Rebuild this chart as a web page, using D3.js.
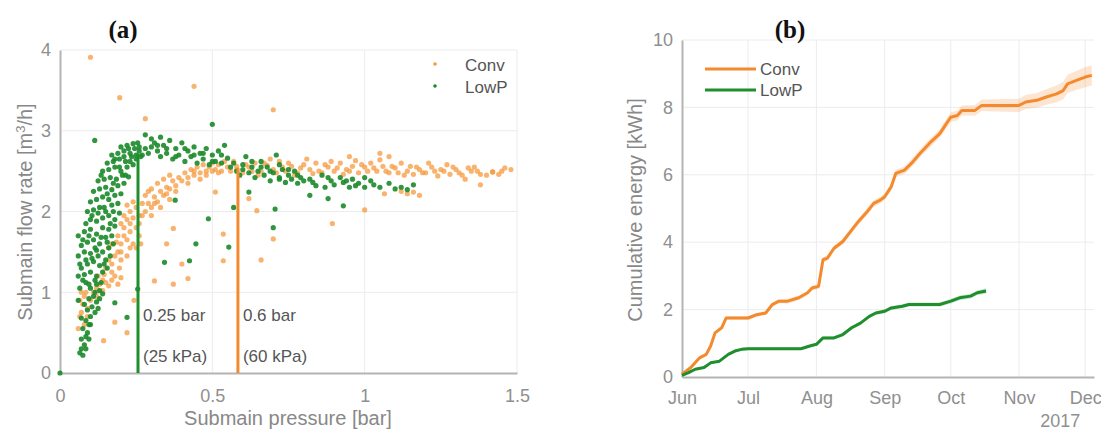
<!DOCTYPE html>
<html>
<head>
<meta charset="utf-8">
<script src="https://cdn.jsdelivr.net/npm/d3@7"></script>
<style>
  body { margin: 0; background: #fff; }
  svg { font-family: "Liberation Sans", Arial, sans-serif; }
</style>
</head>
<body>
<svg id="chart" width="1101" height="430"></svg>
<script>
// ---- panel (a): submain pressure [bar] vs submain flow rate [m3/h]
let convPts = [
  [0.06,0.55],[0.065,0.7],[0.07,0.75],[0.075,0.85],[0.08,0.95],[0.065,0.9],[0.085,1.0],[0.09,0.8],[0.1,0.9],[0.07,1.0],
  [0.143,0.4],[0.18,0.63],[0.22,0.5],[0.243,0.9],
  [0.11,1.0],[0.12,1.05],[0.13,1.1],[0.14,1.02],[0.15,1.12],[0.16,1.08],[0.17,1.15],[0.18,1.2],[0.19,1.1],[0.2,1.18],[0.125,1.2],[0.145,1.22],
  [0.15,1.3],[0.16,1.4],[0.17,1.35],[0.18,1.45],[0.19,1.5],[0.16,1.55],[0.17,1.6],[0.185,1.62],[0.2,1.4],[0.195,1.3],
  [0.2,1.6],[0.21,1.7],[0.22,1.65],[0.23,1.75],[0.24,1.6],[0.25,1.8],[0.26,1.7],[0.2,1.85],[0.21,1.95],[0.22,1.9],
  [0.23,2.0],[0.24,1.92],[0.25,2.05],[0.26,1.95],[0.27,2.1],[0.22,2.08],[0.24,2.12],[0.26,1.85],[0.265,1.6],[0.25,1.55],
  [0.28,2.0],[0.29,2.1],[0.3,2.05],[0.31,2.18],[0.32,2.12],[0.33,2.25],[0.34,2.2],[0.35,2.3],[0.36,2.28],[0.37,2.38],
  [0.38,2.32],[0.39,2.42],[0.28,2.2],[0.3,2.28],[0.32,2.35],[0.34,2.4],[0.36,2.45],[0.3,1.95],[0.33,2.05],[0.36,2.15],
  [0.4,2.38],[0.41,2.48],[0.42,2.42],[0.43,2.52],[0.44,2.45],[0.45,2.55],[0.46,2.48],[0.47,2.58],[0.48,2.5],[0.49,2.55],
  [0.5,2.6],[0.51,2.52],[0.52,2.58],[0.53,2.5],[0.54,2.62],[0.55,2.55],[0.42,2.35],[0.46,2.4],
  [0.56,2.5],[0.58,2.56],[0.6,2.48],[0.62,2.55],[0.64,2.6],[0.66,2.5],[0.68,2.57],[0.7,2.52],[0.72,2.62],[0.74,2.5],
  [0.76,2.56],[0.78,2.48],[0.8,2.58],[0.82,2.52],[0.84,2.6],[0.86,2.48],[0.88,2.55],[0.9,2.5],[0.92,2.6],[0.94,2.52],
  [0.96,2.56],[0.98,2.48],[1.0,2.55],[1.02,2.6],[1.04,2.5],[1.06,2.56],[1.08,2.48],[1.1,2.54],[1.12,2.6],[1.14,2.5],
  [1.16,2.46],[1.18,2.52],[1.2,2.48],[1.22,2.55],[1.24,2.44],[1.26,2.5],[1.28,2.46],[1.3,2.52],[1.32,2.45],[1.35,2.5],
  [1.38,2.46],[1.42,2.49],[1.45,2.5],[1.48,2.52],
  [0.57,2.62],[0.61,2.58],[0.65,2.45],[0.69,2.65],[0.73,2.55],[0.77,2.45],[0.81,2.65],[0.85,2.5],[0.89,2.62],[0.93,2.46],
  [0.97,2.63],[1.01,2.5],[1.05,2.64],[1.09,2.56],[1.13,2.45],[1.17,2.55],[1.21,2.6],[1.25,2.52],[1.29,2.55],[1.33,2.4],
  [1.36,2.55],[1.4,2.45],[1.05,2.72],[1.08,2.68],[0.95,2.68],
  [0.58,2.52],[0.63,2.5],[0.67,2.6],[0.71,2.48],[0.75,2.6],[0.79,2.54],[0.83,2.47],[0.87,2.58],[0.91,2.54],[0.95,2.5],
  [0.99,2.58],[1.03,2.54],[1.07,2.5],[1.11,2.48],[1.15,2.56],[1.19,2.48],[1.23,2.5],[1.27,2.58],[1.31,2.48],[1.34,2.54],
  [1.37,2.5],[1.44,2.46],[1.46,2.54],[0.44,2.5],[0.48,2.45],[0.52,2.48],[0.5,2.5],[0.38,2.25],[0.35,2.22],[0.31,2.1],
  [0.29,2.25],[0.27,1.95],[0.23,1.85],[0.21,1.8],[0.19,1.7],[0.23,1.55],[0.22,1.45],[0.2,1.5],[0.17,1.25],[0.14,1.15],
  [0.12,0.95],[0.09,0.7],[0.08,0.6],
  [1.12,2.25],[1.14,2.22],[1.16,2.24],[1.18,2.2],
  [0.1,3.91],[0.196,3.41],[0.28,3.15],[0.44,3.55],[0.7,3.26],[0.66,1.4],[0.894,1.85],[1.0,2.02],[1.065,2.22],[1.38,2.33],
  [1.42,2.49],[0.372,1.79],[0.372,1.1],[0.42,1.17],[0.4,1.35],[0.31,1.14],[0.35,1.6],[0.536,1.72],[0.536,1.39],[0.51,2.24],
  [0.7,1.66],[0.646,2.01],[0.62,2.16]
];

let lowpPts = [
  [0.065,0.25],[0.07,0.3],[0.075,0.22],[0.08,0.35],[0.07,0.42],[0.085,0.45],[0.09,0.5],[0.075,0.55],[0.095,0.6],[0.085,0.65],
  [0.1,0.7],[0.07,0.68],[0.09,0.78],[0.105,0.82],[0.08,0.85],[0.095,0.92],[0.11,0.95],[0.12,0.88],[0.13,0.92],[0.115,1.0],
  [0.13,1.02],[0.14,0.98],[0.06,0.9],[0.065,1.05],[0.1,1.05],[0.12,1.1],[0.135,1.12],[0.085,1.12],
  [0.06,1.2],[0.08,1.22],[0.1,1.25],[0.12,1.2],[0.14,1.25],[0.155,1.3],[0.07,1.3],[0.09,1.35],[0.11,1.38],[0.13,1.33],
  [0.15,1.4],[0.165,1.45],[0.06,1.45],[0.08,1.5],[0.1,1.48],[0.12,1.52],[0.14,1.5],[0.16,1.55],[0.175,1.6],[0.07,1.58],
  [0.09,1.62],[0.11,1.65],[0.13,1.6],[0.15,1.68],[0.17,1.7],[0.06,1.7],[0.08,1.75],[0.1,1.78],[0.12,1.72],[0.14,1.8],
  [0.16,1.78],[0.18,1.82],
  [0.085,1.85],[0.1,1.9],[0.12,1.88],[0.14,1.92],[0.16,1.95],[0.18,1.9],[0.195,1.98],[0.09,2.0],[0.11,2.02],[0.13,2.05],
  [0.15,2.0],[0.17,2.08],[0.19,2.1],[0.1,2.12],[0.12,2.15],[0.14,2.18],[0.16,2.15],[0.18,2.2],[0.2,2.22],[0.11,2.25],
  [0.13,2.28],[0.15,2.3],[0.17,2.27],[0.19,2.32],[0.21,2.35],[0.125,2.38],[0.145,2.4],[0.165,2.42],[0.185,2.4],[0.205,2.45],
  [0.225,2.43],
  [0.14,2.5],[0.16,2.52],[0.18,2.55],[0.2,2.5],[0.22,2.55],[0.24,2.58],[0.155,2.6],[0.175,2.62],[0.195,2.65],[0.215,2.62],
  [0.235,2.68],[0.25,2.65],[0.17,2.7],[0.19,2.72],[0.21,2.75],[0.23,2.72],[0.245,2.78],[0.26,2.75],[0.2,2.8],[0.22,2.82],
  [0.24,2.84],[0.26,2.8],[0.28,2.78],[0.27,2.7],[0.29,2.72],[0.3,2.8],
  [0.31,2.85],[0.32,2.75],[0.33,2.68],[0.34,2.82],[0.35,2.72],[0.36,2.88],[0.37,2.65],[0.38,2.78],[0.39,2.7],[0.4,2.85],
  [0.41,2.62],[0.42,2.75],[0.43,2.68],[0.44,2.8],[0.45,2.6],[0.46,2.72],[0.47,2.65],[0.48,2.78],[0.49,2.58],[0.5,2.7],
  [0.51,2.62],[0.52,2.75],[0.53,2.6],[0.54,2.82],[0.55,2.66],[0.3,2.9],[0.33,2.92],[0.28,2.95],[0.56,2.55],
  [0.57,2.6],[0.58,2.5],[0.59,2.45],[0.6,2.58],[0.61,2.68],[0.62,2.48],[0.63,2.55],[0.64,2.42],[0.65,2.5],[0.66,2.62],
  [0.67,2.45],[0.68,2.55],[0.69,2.38],[0.7,2.48],[0.71,2.7],[0.72,2.42],[0.73,2.52],[0.74,2.36],[0.75,2.45],[0.76,2.4],
  [0.77,2.5],[0.78,2.35],[0.79,2.42],[0.8,2.38],
  [0.82,2.4],[0.84,2.32],[0.86,2.45],[0.87,2.3],[0.89,2.38],[0.9,2.33],[0.92,2.42],[0.93,2.36],[0.95,2.3],[0.96,2.4],
  [0.98,2.35],[1.0,2.42],[1.0,2.3],[1.02,2.38],[1.05,2.3],[1.08,2.35],[1.1,2.28],[1.12,2.3],[1.14,2.27],[1.16,2.33],
  [0.075,1.15],[0.095,1.1],[0.115,1.15],[0.065,1.35],[0.085,1.4],[0.105,1.42],[0.125,1.45],[0.145,1.35],[0.075,1.65],[0.095,1.7],
  [0.115,1.55],[0.135,1.68],[0.155,1.62],[0.165,1.85],[0.105,1.95],[0.125,1.98],[0.145,2.05],[0.175,2.0],[0.155,2.22],[0.135,2.45],
  [0.175,2.35],[0.195,2.55],[0.215,2.45],[0.23,2.62],[0.18,2.65],[0.21,2.68],[0.225,2.78],[0.25,2.7],[0.265,2.68],[0.255,2.85],
  [0.32,2.82],[0.35,2.78],[0.38,2.68],[0.41,2.78],[0.44,2.7],[0.47,2.72],[0.5,2.62],[0.53,2.7],[0.6,2.52],[0.63,2.62],
  [0.66,2.55],[0.69,2.5],[0.72,2.58],[0.75,2.52],[0.78,2.45],[0.83,2.36],[0.88,2.42],[0.94,2.38],[0.97,2.32],[1.03,2.33],
  [0.1,0.6],[0.115,0.75],[0.125,0.8],[0.085,0.3],[0.095,0.42],
  [0.114,2.88],[0.5,3.08],[0.57,2.05],[0.446,1.6],[0.554,1.56],[0.7,1.8],[0.706,2.03],[0.93,2.07],[0.378,2.14],[0.343,1.37],
  [0.425,1.39],[0.487,1.91],[0.18,0.87],[0.22,0.69],[0.255,1.04],[0,0],[0.62,2.24],[0.72,2.4],[0.82,2.2],[0.88,2.16]
];

// pressure thresholds marked with vertical lines
let thrBar = [0.256, 0.584];
let thrTop = [2.72, 2.54];
let thrText = [["0.25 bar", "(25 kPa)"], ["0.6 bar", "(60 kPa)"]];

let xTicksA = [0, 0.5, 1, 1.5];
let yTicksA = [0, 1, 2, 3, 4];

// ---- panel (b): cumulative energy [kWh], [date, value, band half-width]
let convEnergy = [
  ["2017-06-01",0.08,0.04],["2017-06-05",0.28,0.04],["2017-06-09",0.57,0.05],["2017-06-12",0.67,0.05],["2017-06-14",0.92,0.05],
  ["2017-06-16",1.31,0.05],["2017-06-19",1.46,0.05],["2017-06-21",1.75,0.05],["2017-06-23",1.75,0.05],["2017-07-01",1.75,0.06],
  ["2017-07-05",1.85,0.06],["2017-07-09",1.9,0.06],["2017-07-12",2.15,0.06],["2017-07-15",2.25,0.06],["2017-07-19",2.25,0.07],
  ["2017-07-24",2.35,0.07],["2017-07-28",2.5,0.07],["2017-07-30",2.64,0.07],["2017-08-02",2.69,0.08],["2017-08-04",3.48,0.08],
  ["2017-08-06",3.53,0.08],["2017-08-09",3.82,0.08],["2017-08-13",4.02,0.09],["2017-08-17",4.36,0.09],["2017-08-20",4.61,0.09],
  ["2017-08-24",4.9,0.1],["2017-08-27",5.15,0.1],["2017-08-30",5.25,0.1],["2017-09-01",5.35,0.1],["2017-09-04",5.65,0.11],
  ["2017-09-06",6.04,0.11],["2017-09-10",6.14,0.11],["2017-09-13",6.33,0.12],["2017-09-17",6.63,0.12],["2017-09-22",6.98,0.13],
  ["2017-09-26",7.22,0.13],["2017-09-29",7.52,0.14],["2017-10-01",7.71,0.14],["2017-10-04",7.76,0.15],["2017-10-06",7.91,0.15],
  ["2017-10-12",7.91,0.16],["2017-10-15",8.06,0.17],["2017-10-21",8.06,0.18],["2017-10-27",8.06,0.19],["2017-11-01",8.06,0.2],
  ["2017-11-04",8.16,0.21],["2017-11-09",8.21,0.22],["2017-11-13",8.3,0.23],["2017-11-18",8.4,0.25],["2017-11-21",8.5,0.26],
  ["2017-11-23",8.7,0.27],["2017-11-27",8.8,0.28],["2017-12-01",8.9,0.3],["2017-12-04",8.95,0.3]
];
let lowpEnergy = [
  ["2017-06-01",0.05,0.03],["2017-06-04",0.13,0.03],["2017-06-07",0.23,0.03],["2017-06-11",0.28,0.03],["2017-06-14",0.42,0.03],
  ["2017-06-18",0.47,0.03],["2017-06-22",0.67,0.04],["2017-06-25",0.77,0.04],["2017-06-28",0.82,0.04],["2017-07-01",0.84,0.04],
  ["2017-07-25",0.84,0.04],["2017-07-29",0.92,0.04],["2017-08-01",0.97,0.04],["2017-08-04",1.16,0.05],["2017-08-09",1.16,0.05],
  ["2017-08-13",1.26,0.05],["2017-08-17",1.46,0.05],["2017-08-21",1.6,0.05],["2017-08-25",1.8,0.05],["2017-08-28",1.9,0.05],
  ["2017-09-01",1.95,0.06],["2017-09-04",2.05,0.06],["2017-09-09",2.1,0.06],["2017-09-12",2.15,0.06],["2017-09-18",2.15,0.06],
  ["2017-09-26",2.15,0.06],["2017-10-01",2.25,0.07],["2017-10-05",2.35,0.07],["2017-10-10",2.4,0.07],["2017-10-13",2.5,0.07],
  ["2017-10-17",2.55,0.08]
];
let yTicksB = [0, 2, 4, 6, 8, 10];
let dateRange = ["2017-06-01", "2017-12-05"];

let seriesNames = ["Conv", "LowP"];
let colors = {Conv: "#f48a2e", LowP: "#1f8f2d"};
let dotColors = {Conv: "#f6993f", LowP: "#1b8a2a"};

let svg = d3.select("#chart");
let parse = d3.timeParse("%Y-%m-%d");
let tickCol = "#8f8f8f";

// ===================== panel (a) =====================
let xA = d3.scaleLinear().domain([0, 1.5]).range([60, 517]);
let yA = d3.scaleLinear().domain([0, 4]).range([373, 50]);

let gA = svg.append("g");

// grid
gA.selectAll(".gx").data(xTicksA.filter(d => d > 0)).join("line")
  .attr("x1", d => xA(d)).attr("x2", d => xA(d))
  .attr("y1", yA(0)).attr("y2", yA(4))
  .attr("stroke", "#ececec").attr("stroke-width", 1);
gA.selectAll(".gy").data(yTicksA.filter(d => d > 0)).join("line")
  .attr("x1", xA(0)).attr("x2", xA(1.5))
  .attr("y1", d => yA(d)).attr("y2", d => yA(d))
  .attr("stroke", "#ececec").attr("stroke-width", 1);

// axes
let axA_x = gA.append("g").attr("transform", `translate(0,${yA(0)})`)
  .call(d3.axisBottom(xA).tickValues(xTicksA).tickSize(0).tickPadding(16).tickFormat(d3.format("~g")));
let axA_y = gA.append("g").attr("transform", `translate(${xA(0)},0)`)
  .call(d3.axisLeft(yA).tickValues(yTicksA).tickSize(0).tickPadding(9).tickFormat(d3.format("d")));
[axA_x, axA_y].forEach(function(ax) {
  ax.select(".domain").attr("stroke", "#b4b4b4").attr("stroke-width", 2);
  ax.selectAll("text").attr("fill", tickCol).style("font-size", "18px");
});

// scatter: Conv first, LowP on top
gA.append("g").selectAll("circle").data(convPts).join("circle")
  .attr("cx", d => xA(d[0])).attr("cy", d => yA(d[1])).attr("r", 2.6)
  .attr("fill", dotColors.Conv).attr("fill-opacity", 0.75);
gA.append("g").selectAll("circle").data(lowpPts).join("circle")
  .attr("cx", d => xA(d[0])).attr("cy", d => yA(d[1])).attr("r", 2.6)
  .attr("fill", dotColors.LowP).attr("fill-opacity", 0.9);

// threshold lines + labels
thrBar.forEach(function(b, i) {
  let col = i == 0 ? colors.LowP : colors.Conv;
  gA.append("line")
    .attr("x1", xA(b)).attr("x2", xA(b))
    .attr("y1", yA(0)).attr("y2", yA(thrTop[i]))
    .attr("stroke", col).attr("stroke-width", 3);
  gA.append("text").attr("x", xA(b) + 5).attr("y", 321)
    .attr("fill", "#555").style("font-size", "17px").text(thrText[i][0]);
  gA.append("text").attr("x", xA(b) + 5).attr("y", 362)
    .attr("fill", "#555").style("font-size", "17px").text(thrText[i][1]);
});

// legend (a)
seriesNames.forEach(function(s, i) {
  gA.append("circle").attr("cx", 435).attr("cy", 64 + i * 22).attr("r", 1.8)
    .attr("fill", dotColors[s]);
  gA.append("text").attr("x", 465).attr("y", 71 + i * 22)
    .attr("fill", "#555").style("font-size", "17px").text(s);
});

// labels (a)
gA.append("text").attr("x", 288).attr("y", 425).attr("text-anchor", "middle")
  .attr("fill", "#888").style("font-size", "20px").text("Submain pressure [bar]");
let ylabA = gA.append("text").attr("transform", "translate(32,212) rotate(-90)")
  .attr("text-anchor", "middle").attr("fill", "#888").style("font-size", "20px");
ylabA.append("tspan").text("Submain flow rate [m");
ylabA.append("tspan").attr("baseline-shift", "super").style("font-size", "13px").text("3");
ylabA.append("tspan").text("/h]");

svg.append("text").attr("x", 123).attr("y", 38).attr("text-anchor", "middle")
  .style("font-family", "'Liberation Serif', 'Times New Roman', serif")
  .style("font-weight", "bold").style("font-size", "25px").attr("fill", "#111").text("(a)");

// ===================== panel (b) =====================
let xB = d3.scaleTime().domain(dateRange.map(parse)).range([682, 1094]);
let yB = d3.scaleLinear().domain([0, 10]).range([377, 40]);
let months = d3.timeMonth.range(parse("2017-06-01"), parse("2017-12-02"));

let gB = svg.append("g");
gB.selectAll(".gx").data(months.slice(1)).join("line")
  .attr("x1", d => xB(d)).attr("x2", d => xB(d))
  .attr("y1", yB(0)).attr("y2", yB(10))
  .attr("stroke", "#ececec").attr("stroke-width", 1);
gB.selectAll(".gy").data(yTicksB.filter(d => d > 0)).join("line")
  .attr("x1", xB.range()[0]).attr("x2", xB.range()[1])
  .attr("y1", d => yB(d)).attr("y2", d => yB(d))
  .attr("stroke", "#ececec").attr("stroke-width", 1);

let axB_x = gB.append("g").attr("transform", `translate(0,${yB(0)})`)
  .call(d3.axisBottom(xB).tickValues(months).tickSize(0).tickPadding(14).tickFormat(d3.timeFormat("%b")));
let axB_y = gB.append("g").attr("transform", `translate(${xB.range()[0]},0)`)
  .call(d3.axisLeft(yB).tickValues(yTicksB).tickSize(0).tickPadding(9));
[axB_x, axB_y].forEach(function(ax) {
  ax.select(".domain").attr("stroke", "#b4b4b4").attr("stroke-width", 2);
  ax.selectAll("text").attr("fill", tickCol).style("font-size", "18px");
});
gB.append("text").attr("x", xB(parse("2017-12-01")) - 25).attr("y", 427).attr("text-anchor", "middle")
  .attr("fill", tickCol).style("font-size", "18px").text("2017");

let bandB = d3.area()
  .x(d => xB(parse(d[0]))).y0(d => yB(d[1] - d[2])).y1(d => yB(d[1] + d[2]));
let lineB = d3.line()
  .x(d => xB(parse(d[0]))).y(d => yB(d[1]));

[["Conv", convEnergy], ["LowP", lowpEnergy]].forEach(function(s) {
  gB.append("path").datum(s[1]).attr("d", bandB)
    .attr("fill", colors[s[0]]).attr("fill-opacity", 0.22);
  gB.append("path").datum(s[1]).attr("d", lineB)
    .attr("fill", "none").attr("stroke", colors[s[0]]).attr("stroke-width", 3)
    .attr("stroke-linejoin", "round");
});

// legend (b)
seriesNames.forEach(function(s, i) {
  gB.append("line").attr("x1", 705).attr("x2", 756).attr("y1", 69 + i * 21).attr("y2", 69 + i * 21)
    .attr("stroke", colors[s]).attr("stroke-width", 3);
  gB.append("text").attr("x", 760).attr("y", 75 + i * 21)
    .attr("fill", "#555").style("font-size", "17px").text(s);
});

gB.append("text").attr("transform", "translate(642,210) rotate(-90)")
  .attr("text-anchor", "middle").attr("fill", "#888").style("font-size", "20px")
  .text("Cumulative energy [kWh]");

svg.append("text").attr("x", 790).attr("y", 38).attr("text-anchor", "middle")
  .style("font-family", "'Liberation Serif', 'Times New Roman', serif")
  .style("font-weight", "bold").style("font-size", "25px").attr("fill", "#111").text("(b)");
</script>
</body>
</html>
